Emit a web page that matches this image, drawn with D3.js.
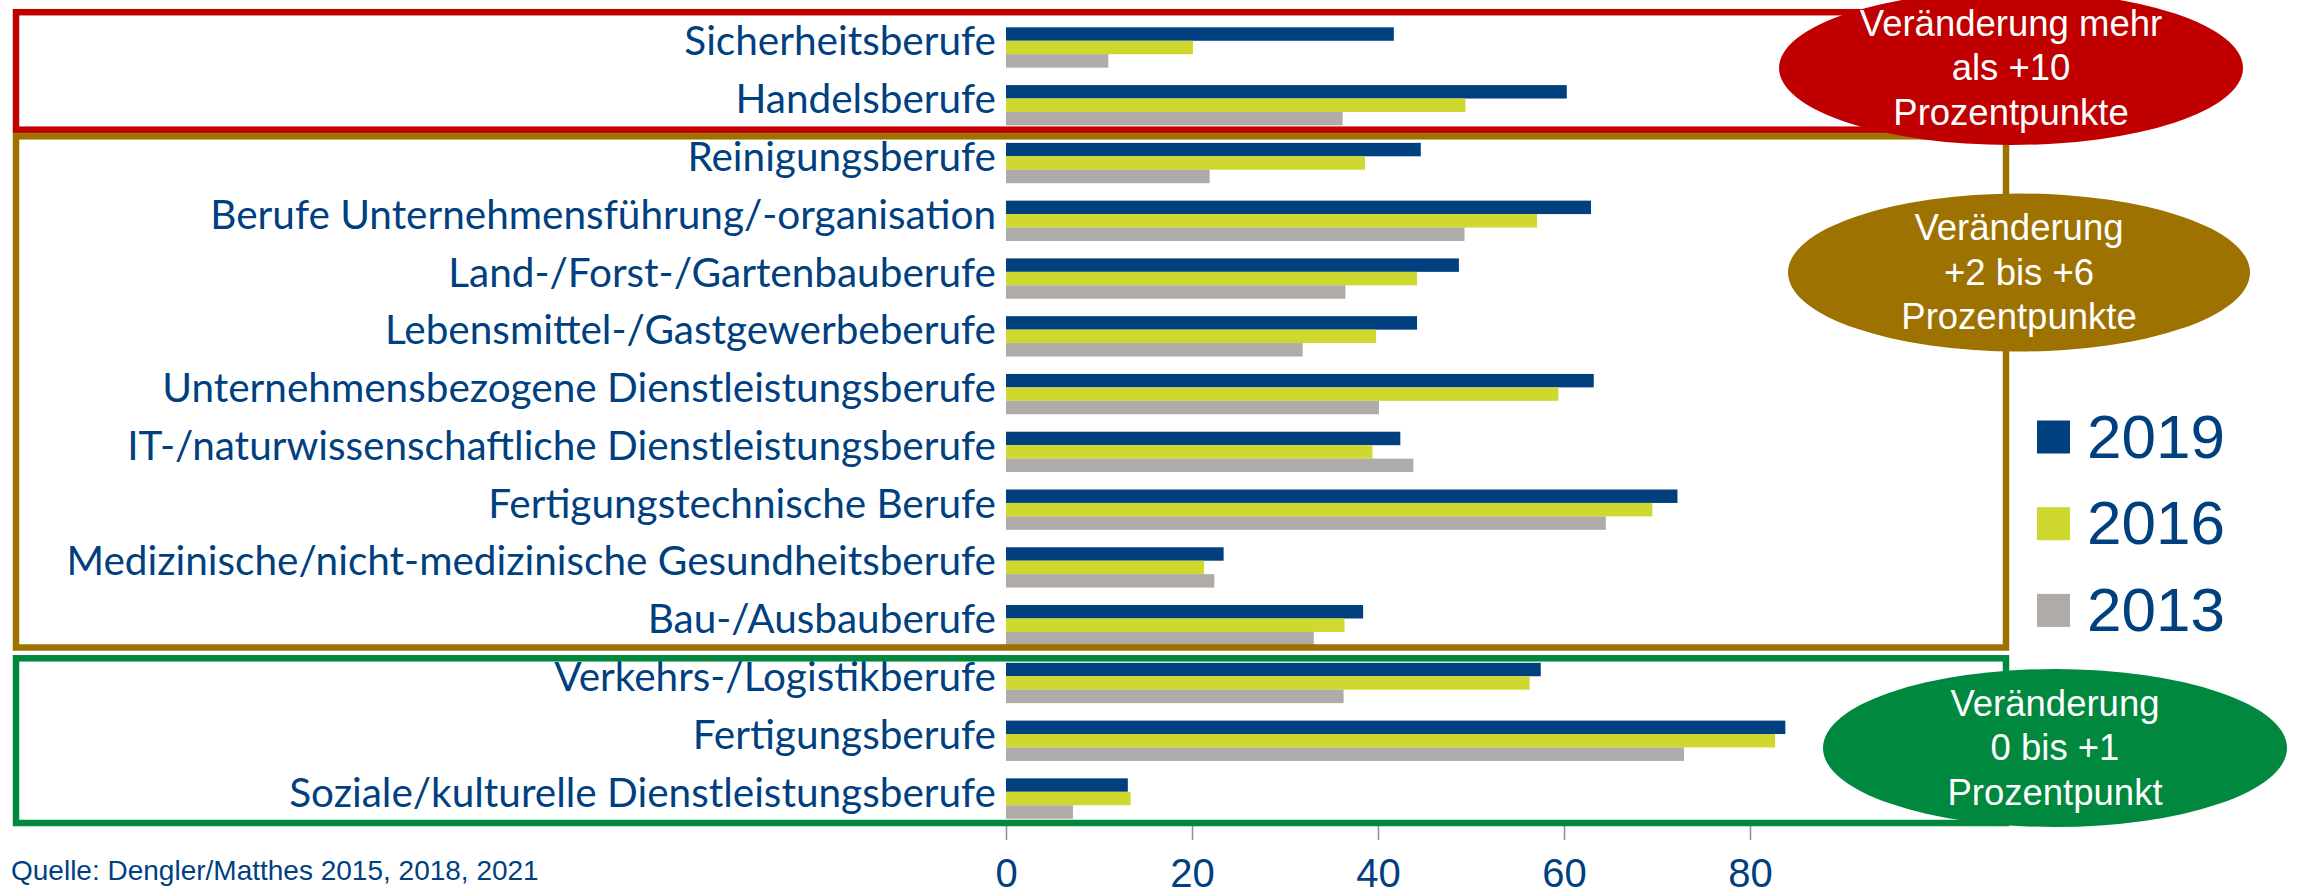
<!DOCTYPE html>
<html>
<head>
<meta charset="utf-8">
<script src="https://cdn.jsdelivr.net/npm/d3@7"></script>
<style>
  body { margin: 0; background: #fff; }
  svg { display: block; }
</style>
</head>
<body>
<svg></svg>
<script>
// Berufsgruppen, von oben nach unten
const categories = [
  "Sicherheitsberufe",
  "Handelsberufe",
  "Reinigungsberufe",
  "Berufe Unternehmensführung/-organisation",
  "Land-/Forst-/Gartenbauberufe",
  "Lebensmittel-/Gastgewerbeberufe",
  "Unternehmensbezogene Dienstleistungsberufe",
  "IT-/naturwissenschaftliche Dienstleistungsberufe",
  "Fertigungstechnische Berufe",
  "Medizinische/nicht-medizinische Gesundheitsberufe",
  "Bau-/Ausbauberufe",
  "Verkehrs-/Logistikberufe",
  "Fertigungsberufe",
  "Soziale/kulturelle Dienstleistungsberufe"
];
const years = ["2019", "2016", "2013"];
const values2019 = [41.7, 60.3, 44.6, 62.9, 48.7, 44.2, 63.2, 42.4, 72.2, 23.4, 38.4, 57.5, 83.8, 13.1];
const values2016 = [20.1, 49.4, 38.6, 57.1, 44.2, 39.8, 59.4, 39.4, 69.5, 21.3, 36.4, 56.3, 82.7, 13.4];
const values2013 = [11.0, 36.2, 21.9, 49.3, 36.5, 31.9, 40.1, 43.8, 64.5, 22.4, 33.1, 36.3, 72.9, 7.2];
const tickValues = [0, 20, 40, 60, 80];

const groupNotes = [
  ["Veränderung mehr", "als +10", "Prozentpunkte"],
  ["Veränderung", "+2 bis +6", "Prozentpunkte"],
  ["Veränderung", "0 bis +1", "Prozentpunkt"]
];
const source = "Quelle: Dengler/Matthes 2015, 2018, 2021";

const w = 2298;
const h = 894;
const blue = "#00407f";
const colors = { "2019": "#00407f", "2016": "#cfd82e", "2013": "#afaba9" };
const groupColors = ["#c00000", "#9e7200", "#00883e"];

const svg = d3.select("svg").attr("width", w).attr("height", h);

const xScale = d3.scaleLinear()
  .domain([0, 100])
  .range([1006, 1936]);

const yScale = d3.scaleBand()
  .domain(categories)
  .range([18.6, 827.4])
  .paddingInner(0.302)
  .paddingOuter(0.151);

const ySub = d3.scaleBand()
  .domain(years)
  .range([0, yScale.bandwidth()]);

const table = categories.map((c, i) => ({
  cat: c,
  vals: [
    { year: "2019", v: values2019[i] },
    { year: "2016", v: values2016[i] },
    { year: "2013", v: values2013[i] }
  ]
}));

// x axis (drawn first, its line sits under the green box)
const xAxis = d3.axisBottom(xScale)
  .tickValues(tickValues)
  .tickSize(15)
  .tickSizeOuter(0)
  .tickPadding(19);

const xAxisG = svg.append("g")
  .attr("transform", "translate(0,825)")
  .call(xAxis);
xAxisG.select(".domain").attr("stroke", "#a0a0a0");
xAxisG.selectAll(".tick line").attr("stroke", "#909090").attr("stroke-width", 1.5);
xAxisG.selectAll(".tick text")
  .attr("font-family", "'Liberation Sans', Arial, sans-serif")
  .attr("font-size", 40)
  .attr("fill", blue);

// bars
const groups = svg.append("g").selectAll("g")
  .data(table)
  .enter()
  .append("g")
  .attr("transform", d => `translate(0,${yScale(d.cat)})`);

groups.selectAll("rect")
  .data(d => d.vals)
  .enter()
  .append("rect")
  .attr("x", xScale(0))
  .attr("y", d => ySub(d.year))
  .attr("width", d => xScale(d.v) - xScale(0))
  .attr("height", ySub.bandwidth())
  .attr("fill", d => colors[d.year]);

// category labels
svg.append("g").selectAll("text")
  .data(categories)
  .enter()
  .append("text")
  .attr("x", xScale(0) - 10)
  .attr("y", d => yScale(d) + yScale.bandwidth() / 2 + 8)
  .attr("text-anchor", "end")
  .attr("font-family", "Lato, 'Noto Sans', sans-serif")
  .attr("font-size", 40.5)
  .attr("fill", blue)
  .text(d => d);

// group boxes
const boxes = [
  { top: 12.2, bottom: 129.7 },
  { top: 136.3, bottom: 647.5 },
  { top: 658.3, bottom: 823 }
];
svg.append("g").selectAll("rect")
  .data(boxes)
  .enter()
  .append("rect")
  .attr("x", 16)
  .attr("y", d => d.top)
  .attr("width", 2006 - 16)
  .attr("height", d => d.bottom - d.top)
  .attr("fill", "none")
  .attr("stroke", (d, i) => groupColors[i])
  .attr("stroke-width", 6.5);

// ellipses with notes
const ellipses = [
  { cx: 2011, cy: 68, rx: 232, ry: 77 },
  { cx: 2019, cy: 272.5, rx: 231, ry: 79 },
  { cx: 2055, cy: 748, rx: 232, ry: 79 }
];
const eg = svg.append("g").selectAll("g")
  .data(ellipses)
  .enter()
  .append("g");
eg.append("ellipse")
  .attr("cx", d => d.cx)
  .attr("cy", d => d.cy)
  .attr("rx", d => d.rx)
  .attr("ry", d => d.ry)
  .attr("fill", (d, i) => groupColors[i]);
eg.each(function(d, i) {
  d3.select(this).selectAll("text")
    .data(groupNotes[i])
    .enter()
    .append("text")
    .attr("x", d.cx)
    .attr("y", (t, j) => d.cy + 12 + (j - 1) * 44.5)
    .attr("text-anchor", "middle")
    .attr("font-family", "'Liberation Sans', Arial, sans-serif")
    .attr("font-size", 36.5)
    .attr("fill", "#fff")
    .text(t => t);
});

// legend
const legend = svg.append("g").selectAll("g")
  .data(years)
  .enter()
  .append("g")
  .attr("transform", (d, i) => `translate(2037,${437 + i * 86.7})`);
legend.append("rect")
  .attr("x", 0)
  .attr("y", -16.5)
  .attr("width", 33)
  .attr("height", 33)
  .attr("fill", d => colors[d]);
legend.append("text")
  .attr("x", 50)
  .attr("y", 20.5)
  .attr("font-family", "'Liberation Sans', Arial, sans-serif")
  .attr("font-size", 62)
  .attr("fill", blue)
  .text(d => d);

// source
svg.append("text")
  .attr("x", 11)
  .attr("y", 880)
  .attr("font-family", "'Liberation Sans', Arial, sans-serif")
  .attr("font-size", 28)
  .attr("fill", blue)
  .text(source);
</script>
</body>
</html>
